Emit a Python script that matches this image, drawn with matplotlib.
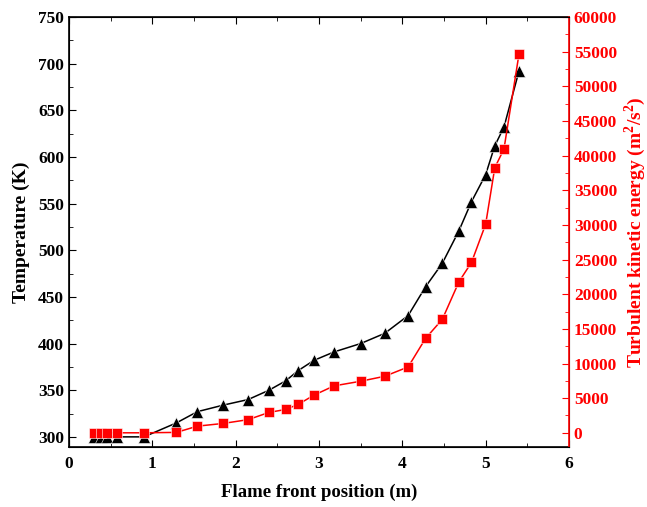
import matplotlib
matplotlib.use("Agg")
import matplotlib.pyplot as plt
from matplotlib.ticker import MultipleLocator

# flame front position (m)
x_pos = [0.30, 0.38, 0.46, 0.58, 0.90, 1.29, 1.54, 1.85, 2.15, 2.40, 2.60, 2.75,
         2.94, 3.18, 3.50, 3.79, 4.07, 4.28, 4.48, 4.68, 4.83, 5.00, 5.11, 5.22, 5.40]
# temperature (K)
temperature = [300, 300, 300, 300, 300, 315, 327, 334, 340, 350, 360, 371,
               382, 391, 400, 411, 430, 461, 486, 521, 552, 581, 612, 632, 692]
# turbulent kinetic energy (m2/s2)
tke = [0, 0, 0, 0, 0, 60, 960, 1350, 1900, 2940, 3370, 4100,
       5430, 6770, 7440, 8160, 9500, 13640, 16370, 21800, 24580, 30090, 38260, 40950, 54630]

plt.rcParams["font.family"] = ["Liberation Serif", "DejaVu Serif"]
plt.rcParams["font.weight"] = "bold"
plt.rcParams["mathtext.fontset"] = "custom"
plt.rcParams["mathtext.rm"] = "Liberation Serif:bold"

fig = plt.figure(figsize=(6.47, 5.07), dpi=100)
ax = fig.add_axes([0.1066, 0.119, 0.7728, 0.8475])
ax2 = ax.twinx()

ax.plot(x_pos, temperature, color="black", lw=1.1, marker="^", ms=8, mec="white", mew=0.4)
ax2.plot(x_pos, tke, color="red", lw=1.1, marker="s", ms=6.5, mec="white", mew=0.4)

ax.set_xlim(0, 6)
ax.set_ylim(289.5, 750)
ax2.set_ylim(-2000, 60000)

ax.xaxis.set_major_locator(MultipleLocator(1))
ax.xaxis.set_minor_locator(MultipleLocator(0.5))
ax.yaxis.set_major_locator(MultipleLocator(50))
ax.yaxis.set_minor_locator(MultipleLocator(25))
ax2.yaxis.set_major_locator(MultipleLocator(5000))
ax2.yaxis.set_minor_locator(MultipleLocator(2500))

ax.tick_params(which="both", direction="in", top=True, labelsize=12.5)
ax.tick_params(which="major", length=5)
ax.tick_params(which="minor", length=3)
ax.tick_params(axis="x", pad=7)
ax2.tick_params(which="both", direction="in", colors="red", labelsize=12.5)
ax2.tick_params(which="major", length=5)
ax2.tick_params(which="minor", length=3)
ax2.spines["right"].set_color("red")
ax2.spines["right"].set_linewidth(1.2)
for sp in ["left", "bottom", "top"]:
    ax.spines[sp].set_linewidth(1.2)

ax.set_xlabel("Flame front position (m)", fontsize=13.5, fontweight="bold", labelpad=8)
ax.set_ylabel("Temperature (K)", fontsize=14, fontweight="bold", labelpad=6)
ax2.set_ylabel(r"Turbulent kinetic energy (m$^2$/s$^2$)", fontsize=14,
               fontweight="bold", color="red", labelpad=4)

fig.savefig("out.png", dpi=100)
